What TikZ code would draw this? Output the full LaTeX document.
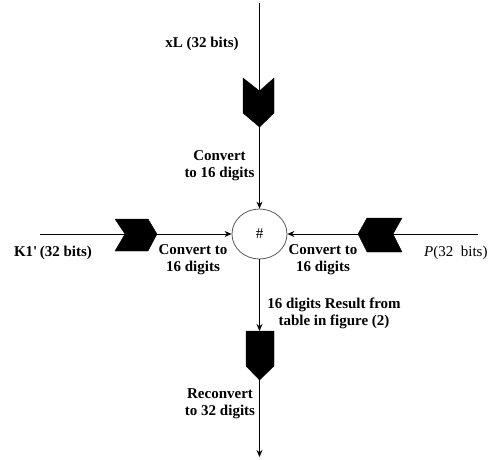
\documentclass[tikz,border=0pt]{standalone}
\usepackage{fontspec}
\setmainfont{Liberation Serif}
\usetikzlibrary{arrows.meta,shapes.geometric}
\begin{document}
\begin{tikzpicture}[x=1pt,y=-1pt,
  lbl/.style={font=\fontsize{15}{17}\selectfont\bfseries, inner sep=0pt, align=center},
  conn/.style={line width=0.9pt, -{Stealth[length=7pt,width=6pt]}},
  chev/.style={fill=black, draw=black, line width=0.4pt}]
\useasboundingbox (0,0) rectangle (490,459);
% central operator
\node[draw=black!65, line width=0.8pt, ellipse, minimum width=55pt, minimum height=50pt, inner sep=0pt] (op) at (259.5,234) {\fontsize{15}{17}\selectfont \#};
% end points
\coordinate (topend) at (259.5,3);
\coordinate (leftend) at (40,234);
\coordinate (rightend) at (478,234);
\coordinate (outend) at (259.5,457);
\coordinate (botchev) at (259.5,331);
% connectors
\draw[conn] (topend) -- (op.north);
\draw[conn] (leftend) -- (op.west);
\draw[conn] (rightend) -- (op.east);
\draw[conn] (op.south) -- (botchev);
\draw[conn] (botchev) -- (outend);
% chevrons
\fill[chev] (243,78) -- (259.5,91) -- (274,78) -- (274,113) -- (259.5,127) -- (243,113) -- cycle;
\fill[chev] (115,219) -- (148,219) -- (157,234) -- (148,251) -- (115,251) -- (125,234) -- cycle;
\fill[chev] (367,218) -- (402,218) -- (393,234) -- (402,252) -- (367,252) -- (358,234) -- cycle;
\fill[chev] (246,331) -- (274,331) -- (274,366) -- (259.5,380) -- (246,366) -- cycle;
% labels
\node[lbl] (txl) at (202,44) {xL (32 bits)};
\node[lbl] (tconv1) at (219.5,166) {Convert\\to 16 digits};
\node[lbl] (tk1) at (53,253) {K1\textquotesingle\,(32 bits)};
\node[lbl, anchor=west, font=\fontsize{15}{17}\selectfont] (tp) at (424,253) {\textit{P}(32\ \ bits)};
\node[lbl] (tconv2) at (193,260) {Convert to\\16 digits};
\node[lbl] (tconv3) at (323,260) {Convert to\\16 digits};
\node[lbl] (tres) at (334,313) {16 digits Result from\\table in figure (2)};
\node[lbl] (trec) at (220,404) {Reconvert\\to 32 digits};
\end{tikzpicture}
\end{document}
